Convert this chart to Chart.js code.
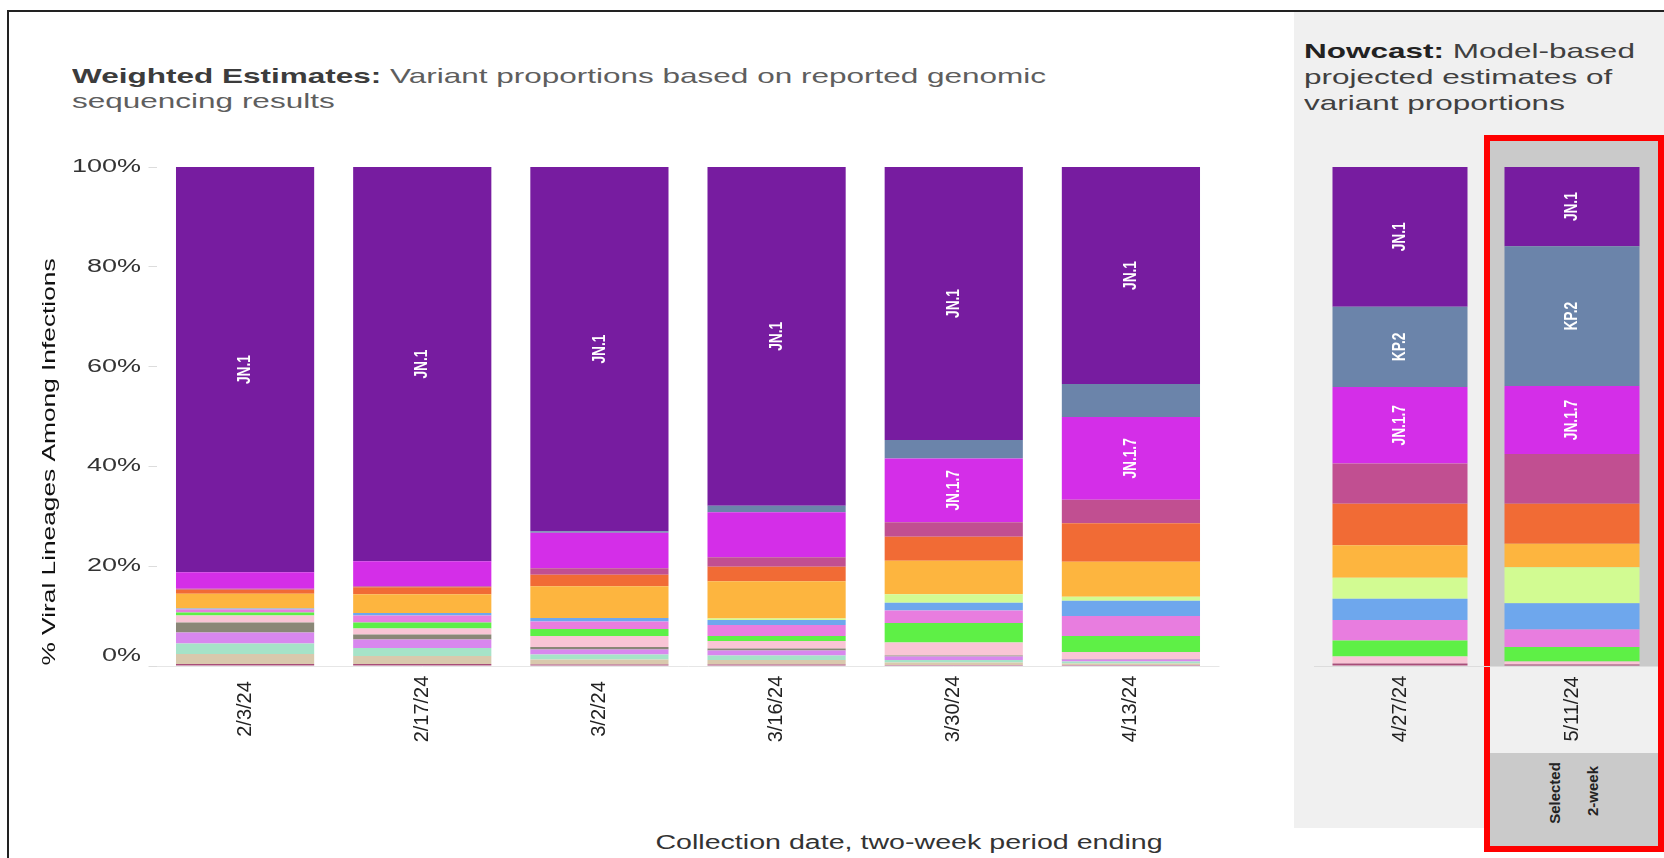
<!DOCTYPE html>
<html>
<head>
<meta charset="utf-8">
<script src="https://cdn.jsdelivr.net/npm/chart.js@4.4.1/dist/chart.umd.min.js"></script>
<style>
  body { margin: 0; background: #fff; }
  #page { position: relative; width: 1664px; height: 858px; overflow: hidden; font-family: "Liberation Sans", Arial, sans-serif; }
  .abs { position: absolute; }
  #frame { left: 7px; top: 10px; width: 1700px; height: 900px; border-left: 2px solid #222; border-top: 2px solid #222; }
  #nowPanel { left: 1294px; top: 12px; width: 370px; height: 816px; background: #f0f0f0; }
  #selBox { left: 1484px; top: 135px; width: 168px; height: 705px; border: 6px solid #ff0000; background: #f0f0f0; }
  #selBand { left: 1490px; top: 141px; width: 168px; height: 525px; background: #cacaca; }
  #selFoot { left: 1490px; top: 753px; width: 168px; height: 93px; background: #cacaca; }
  .ttl { font-size: 21px; line-height: 25px; transform: scaleX(1.5); transform-origin: 0 0; white-space: nowrap; }
  #t1 { left: 72px; top: 63px; color: #5e5e5e; }
  #t1 b { color: #3c3c3c; }
  #t2 { left: 1304px; top: 38px; line-height: 26px; color: #404040; }
  #t2 b { color: #222; }
  #xt { left: 509px; top: 831px; width: 800px; text-align: center; font-size: 20px; color: #333; transform: scaleX(1.43); }
  .rot { font-size: 15px; color: #222; transform: translate(-50%, -50%) rotate(-90deg); white-space: nowrap; font-weight: bold; }
  canvas { position: absolute; top: 0; }
</style>
</head>
<body>
<div id="page">
  <div id="frame" class="abs"></div>
  <div id="nowPanel" class="abs"></div>
  <div id="selBox" class="abs"></div>
  <div id="selBand" class="abs"></div>
  <div id="selFoot" class="abs"></div>
  <div id="t1" class="abs ttl"><b>Weighted Estimates:</b> Variant proportions based on reported genomic<br>sequencing results</div>
  <div id="t2" class="abs ttl"><b>Nowcast:</b> Model-based<br>projected estimates of<br>variant proportions</div>
  <div id="xt" class="abs">Collection date, two-week period ending</div>
  <div class="abs rot" style="left:1554px; top:793px">Selected</div>
  <div class="abs rot" style="left:1592px; top:791px">2-week</div>
  <canvas id="weighted" width="1294" height="858" style="left:0"></canvas>
  <canvas id="nowcast" width="370" height="858" style="left:1294px"></canvas>
</div>
<script>
var weightedWeeks = ['2/3/24', '2/17/24', '3/2/24', '3/16/24', '3/30/24', '4/13/24'];
var nowcastWeeks = ['4/27/24', '5/11/24'];

// share of infections (%) - six weighted periods, then the two nowcast periods
var other     = [0.4, 0.4, 0.3, 0.3, 0.2, 0.2, 0.5, 0.3];
var xbb       = [2.0, 1.6, 1.0, 0.9, 0.5, 0.3, 0, 0];
var jn14      = [2.1, 1.6, 1.0, 0.9, 0.5, 0.4, 0, 0];
var hk3       = [2.2, 1.7, 1.0, 1.0, 0.7, 0.4, 0, 0];
var hv1       = [2.0, 1.0, 0.5, 0.4, 0.2, 0.1, 0, 0];
var jn181     = [1.4, 1.2, 2.2, 1.5, 2.6, 1.4, 1.4, 0.6];
var jn1111    = [0.6, 1.2, 1.4, 1.0, 3.9, 3.2, 3.2, 2.9];
var jn116     = [0.6, 1.4, 1.5, 2.2, 2.5, 4.0, 4.1, 3.5];
var jn1161    = [0.2, 0.5, 0.7, 1.0, 1.6, 3.1, 4.3, 5.3];
var ks1       = [0, 0, 0, 0.3, 1.7, 0.8, 4.2, 7.2];
var jn118     = [3.0, 3.8, 6.4, 7.5, 6.7, 7.0, 6.5, 4.7];
var kp11      = [0.8, 1.4, 2.3, 2.9, 4.8, 7.7, 8.3, 8.0];
var jn1131    = [0.2, 0.2, 1.3, 1.9, 2.9, 4.7, 8.1, 10.0];
var jn17      = [3.3, 5.0, 7.1, 9.0, 12.8, 16.6, 15.3, 13.6];
var kp2       = [0, 0, 0.3, 1.3, 3.7, 6.6, 16.1, 28.0];
var jn1       = [81.2, 79.0, 73.0, 67.9, 54.7, 43.5, 28.0, 15.9];

// stacking order, bottom to top
var lineages = [
  ['Other', other, '#a84d78'],
  ['XBB.1.5.70', xbb, '#d9c9ad'],
  ['JN.1.4', jn14, '#a6e3c8'],
  ['HK.3', hk3, '#d887ee'],
  ['HV.1', hv1, '#8a8777'],
  ['JN.1.8.1', jn181, '#f9c5d5'],
  ['JN.1.11.1', jn1111, '#5ef046'],
  ['JN.1.16', jn116, '#e87ddf'],
  ['JN.1.16.1', jn1161, '#6ea7ed'],
  ['KS.1', ks1, '#d2fb92'],
  ['JN.1.18', jn118, '#fdb53f'],
  ['KP.1.1', kp11, '#f16b35'],
  ['JN.1.13.1', jn1131, '#c14f91'],
  ['JN.1.7', jn17, '#d42ee8'],
  ['KP.2', kp2, '#6b84aa'],
  ['JN.1', jn1, '#771ca0']
];
var labelled = ['JN.1', 'KP.2', 'JN.1.7'];

var FONT = '"Liberation Sans", Arial, sans-serif';
Chart.defaults.font.family = FONT;

function drawText(ctx, str, x, y, o) {
  ctx.save();
  ctx.translate(x, y);
  if (o.rotate) ctx.rotate(o.rotate);
  ctx.scale(o.stretch || 1, 1);
  ctx.font = o.font;
  ctx.fillStyle = o.color;
  ctx.textAlign = o.align || 'center';
  ctx.textBaseline = 'middle';
  ctx.fillText(str, 0, 0);
  ctx.restore();
}

var textPlugin = {
  id: 'variantText',
  afterDatasetsDraw: function (chart, args, opts) {
    var ctx = chart.ctx;
    chart.data.datasets.forEach(function (ds, i) {
      if (labelled.indexOf(ds.label) < 0) return;
      chart.getDatasetMeta(i).data.forEach(function (bar, j) {
        if (ds.data[j] < 10) return;
        drawText(ctx, ds.label, bar.x, (bar.y + bar.base) / 2,
          { rotate: -Math.PI / 2, stretch: 0.72, font: 'bold 19px ' + FONT, color: '#fff' });
      });
    });
    var xs = chart.scales.x;
    chart.data.labels.forEach(function (lab, k) {
      drawText(ctx, lab, xs.getPixelForValue(k), 709,
        { rotate: -Math.PI / 2, font: '20px ' + FONT, color: '#222' });
    });
    if (opts.yAxis) {
      var ys = chart.scales.y;
      ys.ticks.forEach(function (t) {
        var py = ys.getPixelForValue(t.value);
        if (t.value === 0) py -= 10;
        drawText(ctx, t.value + '%', 141, py,
          { align: 'right', stretch: 1.5, font: '18px ' + FONT, color: '#333' });
      });
      drawText(ctx, '% Viral Lineages Among Infections', 50, 462,
        { rotate: -Math.PI / 2, stretch: 1.46, font: '18px ' + FONT, color: '#111' });
    }
  }
};

function makeChart(id, labels, from, to, opt) {
  return new Chart(document.getElementById(id), {
    type: 'bar',
    data: {
      labels: labels,
      datasets: lineages.map(function (l) {
        return {
          label: l[0],
          data: l[1].slice(from, to),
          backgroundColor: l[2],
          borderWidth: 0,
          categoryPercentage: 1.0,
          barPercentage: opt.barPct
        };
      })
    },
    options: {
      responsive: false,
      animation: false,
      devicePixelRatio: 1,
      layout: { padding: opt.padding },
      plugins: {
        legend: { display: false },
        tooltip: { enabled: false },
        variantText: { yAxis: opt.yAxis }
      },
      scales: {
        x: { stacked: true, display: false },
        y: {
          stacked: true, min: 0, max: 100,
          ticks: { display: false, stepSize: 20 },
          border: { display: false },
          grid: {
            drawTicks: opt.yAxis,
            tickLength: 8,
            tickColor: '#dcdcdc',
            color: function (c) { return c.tick && c.tick.value === 0 ? opt.baseColor : 'rgba(0,0,0,0)'; }
          },
          afterFit: function (s) { s.width = opt.yWidth; }
        }
      }
    },
    plugins: [textPlugin]
  });
}

makeChart('weighted', weightedWeeks, 0, 6, {
  barPct: 0.78, yAxis: true, yWidth: 156.5, baseColor: '#e6e6e6',
  padding: { top: 167, bottom: 192, left: 0, right: 74.5 }
});
makeChart('nowcast', nowcastWeeks, 6, 8, {
  barPct: 0.785, yAxis: false, yWidth: 0, baseColor: '#dcdcdc',
  padding: { top: 167, bottom: 192, left: 20, right: 6 }
});
</script>
</body>
</html>
